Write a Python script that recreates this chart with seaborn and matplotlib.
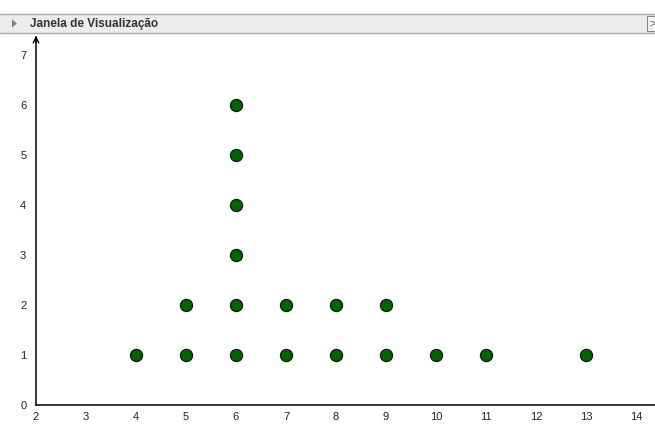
import matplotlib
matplotlib.use("Agg")
import matplotlib.pyplot as plt
import seaborn as sns
import pandas as pd
from matplotlib.patches import Rectangle, Polygon

# frequency of each value in the dot plot
values = [4, 5, 6, 7, 8, 9, 10, 11, 13]
counts = [1, 2, 6, 2, 2, 2, 1, 1, 1]
x_ticks = list(range(2, 15))
y_ticks = list(range(0, 8))

rows = []
for v, c in zip(values, counts):
    for k in range(1, c + 1):
        rows.append({"valor": v, "n": k})
df = pd.DataFrame(rows)

sns.set_style("white")
plt.rcParams["font.family"] = ["Liberation Sans", "DejaVu Sans"]

W, H = 655, 432
fig = plt.figure(figsize=(W / 100, H / 100), dpi=100)

# header bar of the GeoGebra window
top, bot = 14, 33
fig.patches.append(Rectangle((0, 1 - bot / H), 1, (bot - top) / H, transform=fig.transFigure,
                             facecolor="#ececec", edgecolor="none"))
for py in (top, bot):
    fig.add_artist(plt.Line2D([0, 1], [1 - py / H, 1 - py / H], transform=fig.transFigure,
                              color="#a8a8a8", lw=1))
tri_y = 1 - 23.5 / H
fig.patches.append(Polygon([(12 / W, tri_y + 4 / H), (12 / W, tri_y - 4 / H), (17 / W, tri_y)],
                           closed=True, transform=fig.transFigure, facecolor="#808080", edgecolor="none"))
fig.text(30 / W, tri_y, "Janela de Visualização", fontsize=8.5, fontweight="bold",
         color="#333333", va="center", ha="left")
fig.patches.append(Rectangle((647 / W, 1 - 31 / H), 10 / W, 15 / H, transform=fig.transFigure,
                             facecolor="#f4f4f4", edgecolor="#888888", lw=0.8))
fig.text(649 / W, tri_y, ">", fontsize=8, color="#555555", va="center", ha="left")

ax = fig.add_axes([0, 0, 1, (H - bot) / H])
sns.scatterplot(data=df, x="valor", y="n", ax=ax, s=76, color="#006400",
                edgecolor="#0a1a0a", linewidth=0.9, zorder=3, legend=False)

ax.set_xlim(2 - 36 / 50, 2 + 619 / 50)
ax.set_ylim(-27 / 50, 372 / 50)
ax.set_xlabel("")
ax.set_ylabel("")

for s in ("top", "right"):
    ax.spines[s].set_visible(False)
ax.spines["left"].set_position(("data", 2))
ax.spines["bottom"].set_position(("data", 0))
ax.spines["left"].set_bounds(0, 7.36)
ax.spines["bottom"].set_bounds(2, 14.5)
for s in ("left", "bottom"):
    ax.spines[s].set_color("black")
    ax.spines[s].set_linewidth(1.1)

ax.set_xticks(x_ticks)
ax.set_yticks(y_ticks)
ax.tick_params(axis="both", direction="out", length=3, width=0.8, color="black",
               labelsize=8, labelcolor="#222222", pad=2)
ax.tick_params(axis="y", pad=4)

# arrow on the y-axis
ax.annotate("", xy=(2, 7.44), xytext=(2, 7.2),
            arrowprops=dict(arrowstyle="->", color="black", lw=1.0))

fig.savefig("out.png", dpi=100, facecolor="white")
